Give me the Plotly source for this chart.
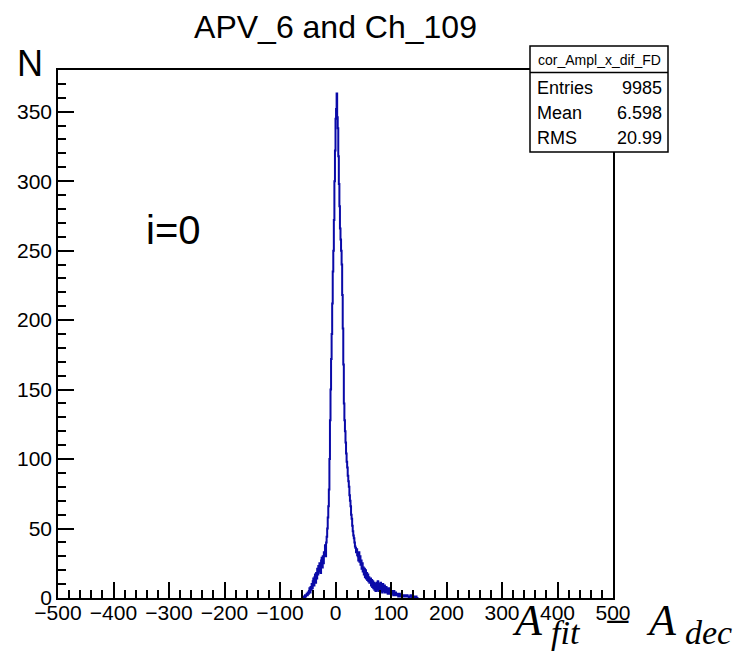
import numpy as np
import plotly.graph_objects as go

# ---- data: histogram counts per 1-unit bin, starting at x = -60 ----
bin_start = -60
bin_width = 1
counts = [
    0, 0, 0, 1, 0, 2, 1, 2, 3, 2,            # -60..-51
    4, 3, 5, 7, 4, 8, 6, 10, 7, 12,          # -50..-41
    14, 9, 15, 17, 11, 18, 14, 21, 17, 23,   # -40..-31
    19, 25, 21, 18, 27, 29, 22, 30, 25, 33,  # -30..-21
    31, 38, 30, 40, 44, 50, 58, 66, 78, 100, # -20..-11
    128, 150, 172, 190, 212, 235, 250, 272, 300, 322,  # -10..-1
    345, 352, 363, 346, 338, 318, 298, 282, 266, 258,  # 0..9
    250, 240, 218, 194, 168, 140, 128, 120, 112, 104,  # 10..19
    98, 94, 88, 84, 80, 74, 70, 66, 60, 57,  # 20..29
    52, 48, 45, 43, 40, 37, 36, 33, 35, 31,  # 30..39
    30, 27, 33, 26, 30, 24, 27, 21, 25, 19,  # 40..49
    22, 17, 21, 15, 20, 14, 18, 13, 17, 12,  # 50..59
    15, 11, 12, 14, 9, 13, 8, 12, 7, 11,     # 60..69
    6, 10, 5, 9, 11, 6, 12, 5, 10, 7,        # 70..79
    6, 11, 5, 9, 4, 10, 6, 5, 9, 4,          # 80..89
    6, 8, 4, 7, 3, 6, 5, 7, 3, 5,            # 90..99
    4, 5, 3, 4, 2, 5, 2, 3, 4, 2,            # 100..109
    3, 2, 3, 1, 2, 3, 2, 1, 2, 2,            # 110..119
    1, 2, 1, 2, 1, 1, 2, 1, 1, 2,            # 120..129
    1, 1, 0, 1, 1, 2, 1, 0, 1, 1,            # 130..139
    1, 0, 1, 1, 0, 1, 0, 0, 0, 0,            # 140..149
]

title_text = "APV_6 and Ch_109"
stats_name = "cor_Ampl_x_dif_FD"
stats_labels = ["Entries", "Mean", "RMS"]
stats_values = ["9985", "6.598", "20.99"]

x_range = [-500, 500]
y_range = [0, 380]

# ---- figure ----
centers = bin_start + bin_width * (np.arange(len(counts)) + 0.5)

fig = go.Figure()
fig.add_trace(go.Scatter(
    x=centers, y=counts, mode="lines", line_shape="hvh",
    line=dict(color="#0a0aa8", width=2), showlegend=False, hoverinfo="skip",
))

FONT = "Liberation Sans, Arial, sans-serif"
SERIF = "Liberation Serif, DejaVu Serif, serif"
axis_common = dict(
    showgrid=False, zeroline=False, showline=True, linecolor="black",
    linewidth=1.5, mirror=True, ticks="inside", tickcolor="black",
    tickwidth=1.5, ticklen=16,
    tickfont=dict(family=FONT, size=21, color="black"),
)

fig.update_xaxes(range=x_range, tick0=-500, dtick=100, ticklabelstandoff=-5,
                 minor=dict(dtick=20, ticks="inside", ticklen=8, tickwidth=1.5, tickcolor="black"),
                 **axis_common)
fig.update_yaxes(range=y_range, tick0=0, dtick=50,
                 minor=dict(dtick=10, ticks="inside", ticklen=8, tickwidth=1.5, tickcolor="black"),
                 **axis_common)

L, R, T, B = 58, 127, 70, 54
W, H = 740, 652
pw, ph = W - L - R, H - T - B

def px(x):
    return (x - L) / pw

def py(y):
    return (H - B - y) / ph

fig.update_layout(
    width=W, height=H, margin=dict(l=L, r=R, t=T, b=B, pad=0),
    paper_bgcolor="white", plot_bgcolor="white",
    title=dict(text=title_text, x=0.5, xref="paper", xanchor="center",
               y=1 - 27 / H, yref="container", yanchor="middle",
               font=dict(family=FONT, size=32, color="black")),
)

# stats box
fig.add_shape(type="rect", xref="paper", yref="paper",
              x0=px(530), x1=px(668), y0=py(152), y1=py(46),
              line=dict(color="black", width=1.5), fillcolor="white", layer="above")
fig.add_shape(type="line", xref="paper", yref="paper",
              x0=px(530), x1=px(668), y0=py(72.5), y1=py(72.5),
              line=dict(color="black", width=1.5), layer="above")
fig.add_annotation(text=stats_name, xref="paper", yref="paper", x=px(599), y=py(59.5),
                   xanchor="center", yanchor="middle", showarrow=False,
                   font=dict(family=FONT, size=14, color="black"))
for lab, val, yy in zip(stats_labels, stats_values, [88, 113, 138]):
    fig.add_annotation(text=lab, xref="paper", yref="paper", x=px(535), y=py(yy),
                       xanchor="left", yanchor="middle", showarrow=False,
                       font=dict(family=FONT, size=18, color="black"))
    fig.add_annotation(text=val, xref="paper", yref="paper", x=px(664), y=py(yy),
                       xanchor="right", yanchor="middle", showarrow=False,
                       font=dict(family=FONT, size=18, color="black"))

# overlay texts
fig.add_annotation(text="N", xref="paper", yref="paper", x=px(30), y=py(63),
                   xanchor="center", yanchor="middle", showarrow=False,
                   font=dict(family=FONT, size=36, color="black"))
fig.add_annotation(text="i=0", xref="paper", yref="paper", x=px(173), y=py(230),
                   xanchor="center", yanchor="middle", showarrow=False,
                   font=dict(family=FONT, size=40, color="black"))

# axis label  A_fit − A_dec, placed piece by piece
label_parts = [
    ("<i>A</i>", 510, 620, 44),
    ("<i>fit</i>", 549, 632, 34),
    ("−", 603, 621, 46),
    ("<i>A</i>", 644, 620, 44),
    ("<i>dec</i>", 683, 632, 34),
]
for txt, xl, yc, sz in label_parts:
    fig.add_annotation(text=txt, xref="paper", yref="paper", x=px(xl), y=py(yc),
                       xanchor="left", yanchor="middle", showarrow=False,
                       font=dict(family=SERIF, size=sz, color="black"))

fig.write_html("out.html")
